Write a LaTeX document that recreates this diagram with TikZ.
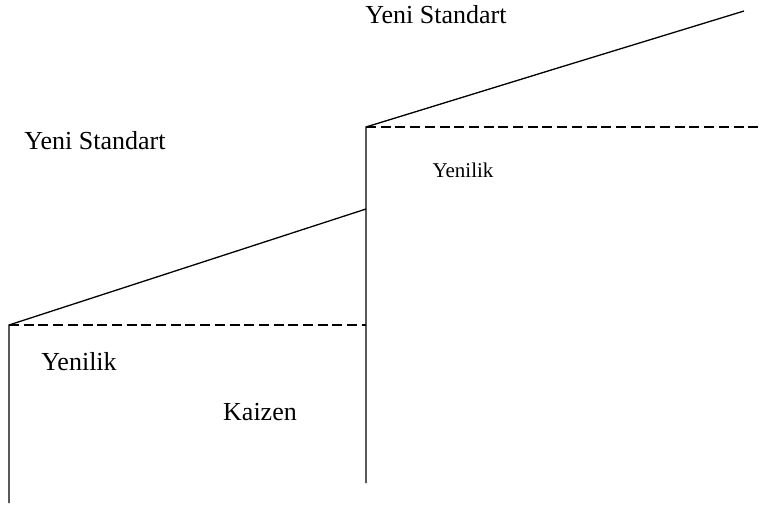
\documentclass[tikz,border=0pt]{standalone}
\usepackage{fontspec}
\setmainfont{Liberation Serif}
\usetikzlibrary{positioning}

\begin{document}
\begin{tikzpicture}[
    x=1pt, y=-1pt,
    level/.style={line width=1.3pt},
    base/.style={line width=1.3pt, dash pattern=on 10pt off 4.7pt},
    lbl/.style={inner sep=0pt, font=\fontsize{26}{30}\selectfont},
    lblsmall/.style={inner sep=0pt, font=\fontsize{21}{25}\selectfont},
]
\useasboundingbox (0,0) rectangle (761,509);

% Points of the two steps
\coordinate (a0) at (9,503);
\coordinate (a1) at (9,325);
\coordinate (a2) at (366,325);
\coordinate (a3) at (366,209);
\coordinate (b0) at (366,483);
\coordinate (b1) at (366,127);
\coordinate (b2) at (761,127);
\coordinate (bm) at (561,67);
\coordinate (b3) at (744,11);

% First step
\draw[level] (a0) -- (a1) -- (a3);
\draw[base] (a1) -- (a2);

% Second step
\draw[level] (b0) -- (b1) -- (bm);
\draw[level] (bm) -- (b3);
\draw[base] (b1) -- (b2);

% Labels
\node[lbl] (std2) at (436,15) {Yeni Standart};
\node[lbl] (std1) at (95,141) {Yeni Standart};
\node[lblsmall] (yen2) at (463,170) {Yenilik};
\node[lbl] (yen1) at (79,362) {Yenilik};
\node[lbl] (kaizen) at (260,412) {Kaizen};

\end{tikzpicture}
\end{document}
